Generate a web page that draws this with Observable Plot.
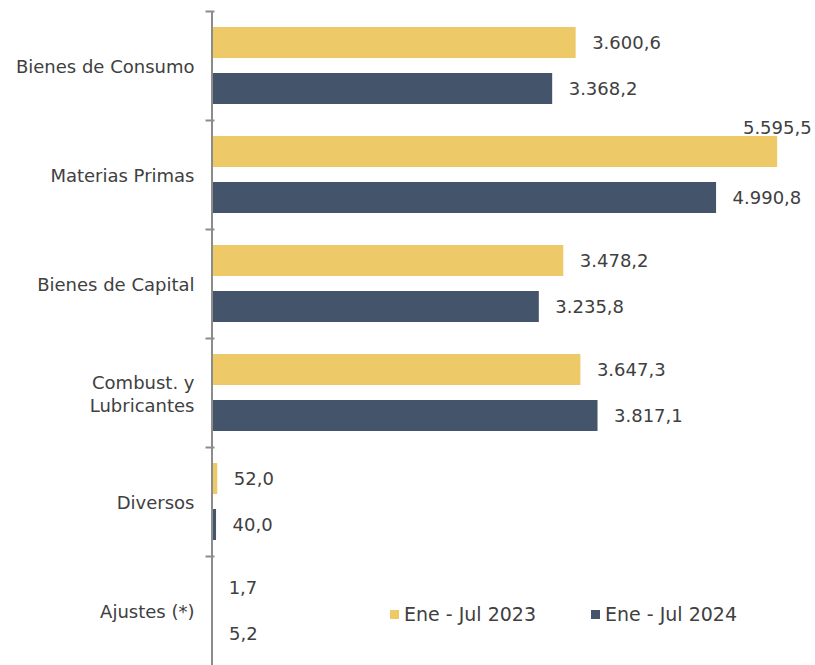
<!DOCTYPE html>
<html><head><meta charset="utf-8">
<script src="https://cdn.jsdelivr.net/npm/d3@7"></script>
<script src="https://cdn.jsdelivr.net/npm/@observablehq/plot@0.6"></script>
<style>
html,body{margin:0;padding:0;background:#fff;overflow:hidden;}
#wrap{position:relative;width:815px;height:665px;overflow:hidden;}
#wrap svg{max-width:none !important;}
.legend{position:absolute;left:390px;top:603px;display:flex;gap:55px;font-family:"DejaVu Sans";font-size:19px;color:#404040;}
.item{display:flex;align-items:center;gap:5px;}
.sw{width:9px;height:9px;display:inline-block;}
</style></head><body><div id="wrap"></div>
<script>
const categories = ["Bienes de Consumo","Materias Primas","Bienes de Capital","Combust. y Lubricantes","Diversos","Ajustes (*)"];
const series = ["Ene - Jul 2023","Ene - Jul 2024"];
const values2023 = [3600.6, 5595.5, 3478.2, 3647.3, 52.0, 1.7];
const values2024 = [3368.2, 4990.8, 3235.8, 3817.1, 40.0, 5.2];
const colors = ["#EDC968","#44546A"];

const data = categories.flatMap((c,i)=>[
  {category:c, series:series[0], value:values2023[i]},
  {category:c, series:series[1], value:values2024[i]}
]);
const loc = d3.formatLocale({decimal:",", thousands:".", grouping:[3], currency:["",""]});
const fmt = loc.format(",.1f");
const maxV = d3.max(data, d=>d.value);

const W = 818, H = 666, MT = 10, MB = 0, ML = 212, MR = 0;
const textColor = "#404040", axisColor = "#8c8c8c";
const font = "DejaVu Sans";

const chart = Plot.plot({
  width: W, height: H, marginTop: MT, marginBottom: MB, marginLeft: ML, marginRight: MR,
  style: {fontFamily: font, fontSize: "18px", color: textColor, background: "#fff"},
  x: {domain: [0, 6000], axis: null},
  y: {domain: series, paddingInner: 0.32, paddingOuter: 0.333, axis: null},
  fy: {domain: categories, padding: 0, axis: null},
  color: {domain: series, range: colors},
  marks: [
    Plot.barX(data, {fy: "category", y: "series", x: "value", fill: "series"}),
    Plot.text(data.filter(d => d.value !== maxV), {fy: "category", y: "series", x: "value", text: d => fmt(d.value), textAnchor: "start", dx: 16, fill: textColor, fontSize: 18}),
    Plot.text(data.filter(d => d.value === maxV), {fy: "category", y: "series", x: "value", text: d => fmt(d.value), textAnchor: "end", dx: 34, dy: -24, fill: textColor, fontSize: 18}),
    Plot.ruleX([0], {stroke: axisColor, strokeWidth: 2, dx: -0.5}),
    Plot.frame({anchor: "top", stroke: axisColor, strokeWidth: 2, insetLeft: -6, insetRight: W - ML - MR - 1}),
    Plot.axisFy({anchor: "left", tickSize: 0, tickPadding: 18, label: null,
      tickFormat: d => d === "Combust. y Lubricantes" ? "Combust. y\nLubricantes" : d,
      fontSize: 18, lineHeight: 1.28, fill: textColor})
  ]
});
chart.style.maxWidth = "none";
const wrap = document.getElementById("wrap");
wrap.appendChild(chart);
const legend = document.createElement("div");
legend.className = "legend";
series.forEach((s, i) => {
  const it = document.createElement("div");
  it.className = "item";
  const sw = document.createElement("span");
  sw.className = "sw"; sw.style.background = colors[i];
  const t = document.createElement("span"); t.textContent = s;
  it.appendChild(sw); it.appendChild(t);
  legend.appendChild(it);
});
wrap.appendChild(legend);
</script></body></html>
